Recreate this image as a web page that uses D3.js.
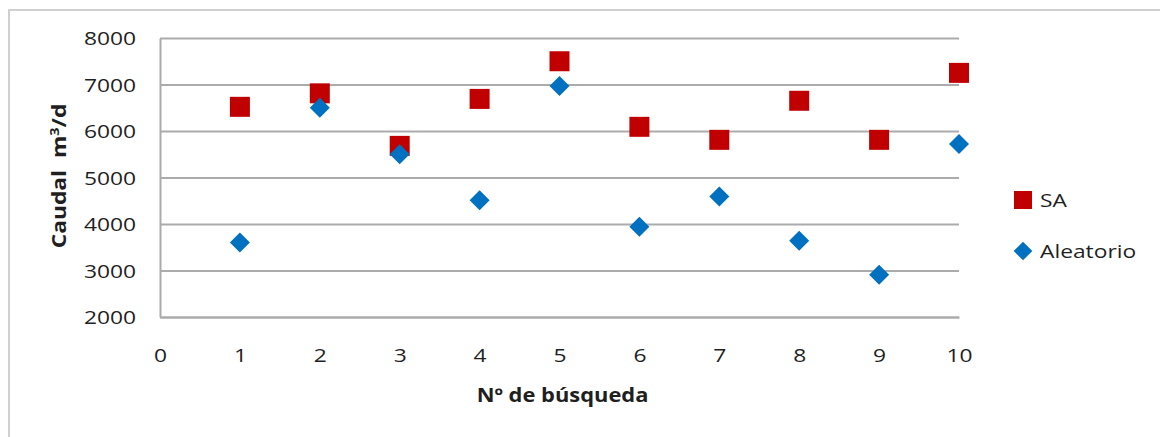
<!DOCTYPE html>
<html><head><meta charset="utf-8">
<script src="https://cdn.jsdelivr.net/npm/d3@7"></script>
<style>body{margin:0;background:#fff} svg{display:block}</style>
</head><body>
<svg id="c" width="1160" height="437"></svg>
<script>
// ---- data ----
const searches = [1, 2, 3, 4, 5, 6, 7, 8, 9, 10];
const saValues = [6520, 6810, 5680, 6690, 7500, 6090, 5810, 6650, 5810, 7250];
const randomValues = [3600, 6500, 5500, 4510, 6970, 3940, 4590, 3640, 2910, 5720];
const xTicks = [0, 1, 2, 3, 4, 5, 6, 7, 8, 9, 10];
const yTicks = [2000, 3000, 4000, 5000, 6000, 7000, 8000];
const seriesNames = ["SA", "Aleatorio"];
const xTitle = "Nº de búsqueda";

// ---- layout ----
const L = 160, R = 959, T = 38, B = 317;
const SX = 1.2;
const FONT = "'Open Sans', 'DejaVu Sans', sans-serif";
const TXT = "#1f1f1f";
const GRID = "#ababab";
const RED = "#C00000", BLUE = "#0070C0";

const svg = d3.select("#c");
svg.append("rect").attr("x", 9).attr("y", 10).attr("width", 1200).attr("height", 500)
  .attr("fill", "#fff").attr("stroke", "#d0d0d0").attr("stroke-width", 2);

const x = d3.scaleLinear().domain([0, 10]).range([L, R]);
const y = d3.scaleLinear().domain([2000, 8000]).range([B, T]);

// y axis + gridlines
const ya = svg.append("g").attr("transform", `translate(${L},0)`)
  .call(d3.axisLeft(y).tickValues(yTicks).tickSize(-(R - L)).tickSizeOuter(0).tickFormat(d3.format("d")));
ya.selectAll("line").attr("stroke", GRID).attr("stroke-width", 2);
ya.select(".domain").attr("stroke", GRID).attr("stroke-width", 2);
ya.selectAll("text")
  .attr("x", -24 / SX).attr("dy", "0.35em")
  .attr("transform", `scale(${SX},1)`)
  .attr("font-family", FONT).attr("font-size", 19).attr("fill", TXT);

// x axis
const xa = svg.append("g").attr("transform", `translate(0,${B})`)
  .call(d3.axisBottom(x).tickValues(xTicks).tickSize(0).tickSizeOuter(0).tickFormat(d3.format("d")));
xa.select(".domain").attr("stroke", GRID).attr("stroke-width", 2);
xa.selectAll(".tick").each(function () {
  const t = d3.select(this).select("text");
  t.attr("y", 38).attr("dy", "0.35em")
   .attr("transform", `scale(${SX},1)`)
   .attr("font-family", FONT).attr("font-size", 19).attr("fill", TXT);
});
// fix scaling of tick group translate: wrap text in inner group
xa.selectAll(".tick text").attr("transform", null);
xa.selectAll(".tick").each(function () {
  const g = d3.select(this);
  const txt = g.select("text").remove();
  g.append("g").attr("transform", `scale(${SX},1)`).append(() => txt.node());
});

// axis titles
svg.append("text").attr("transform", `translate(${(L + R) / 2 + 3},395) scale(${SX * 0.96},1)`)
  .attr("text-anchor", "middle").attr("dy", "0.35em")
  .attr("font-family", FONT).attr("font-weight", "bold").attr("font-size", 19).attr("fill", TXT)
  .text(xTitle);

const yt = svg.append("text").attr("transform", `translate(66,176) rotate(-90) scale(${SX},1)`)
  .attr("text-anchor", "middle")
  .attr("font-family", FONT).attr("font-weight", "bold").attr("font-size", 19).attr("fill", TXT);
yt.append("tspan").text("Caudal\u00a0\u00a0m");
yt.append("tspan").attr("dy", -7).attr("font-size", 12).text("3");
yt.append("tspan").attr("dy", 7).text("/d");

// markers
const square = d3.symbol(d3.symbolSquare, 400);
const diamond = d3.symbol(d3.symbolSquare, 200);
svg.append("g").selectAll("path").data(searches).join("path")
  .attr("d", square)
  .attr("transform", (d, i) => `translate(${x(d)},${y(saValues[i])})`)
  .attr("fill", RED);
svg.append("g").selectAll("path").data(searches).join("path")
  .attr("d", diamond)
  .attr("transform", (d, i) => `translate(${x(d)},${y(randomValues[i])}) rotate(45)`)
  .attr("fill", BLUE);

// legend
const leg = [
  { name: seriesNames[0], color: RED, sym: d3.symbol(d3.symbolSquare, 324), rot: 0, cy: 200 },
  { name: seriesNames[1], color: BLUE, sym: d3.symbol(d3.symbolSquare, 175), rot: 45, cy: 251 }
];
const lg = svg.append("g").selectAll("g").data(leg).join("g")
  .attr("transform", d => `translate(1023,${d.cy})`);
lg.append("path").attr("d", d => d.sym()).attr("transform", d => `rotate(${d.rot})`).attr("fill", d => d.color);
lg.append("text").attr("transform", `translate(17,0) scale(${SX},1)`).attr("dy", "0.35em")
  .attr("font-family", FONT).attr("font-size", 19).attr("fill", TXT).text(d => d.name);
</script>
</body></html>
